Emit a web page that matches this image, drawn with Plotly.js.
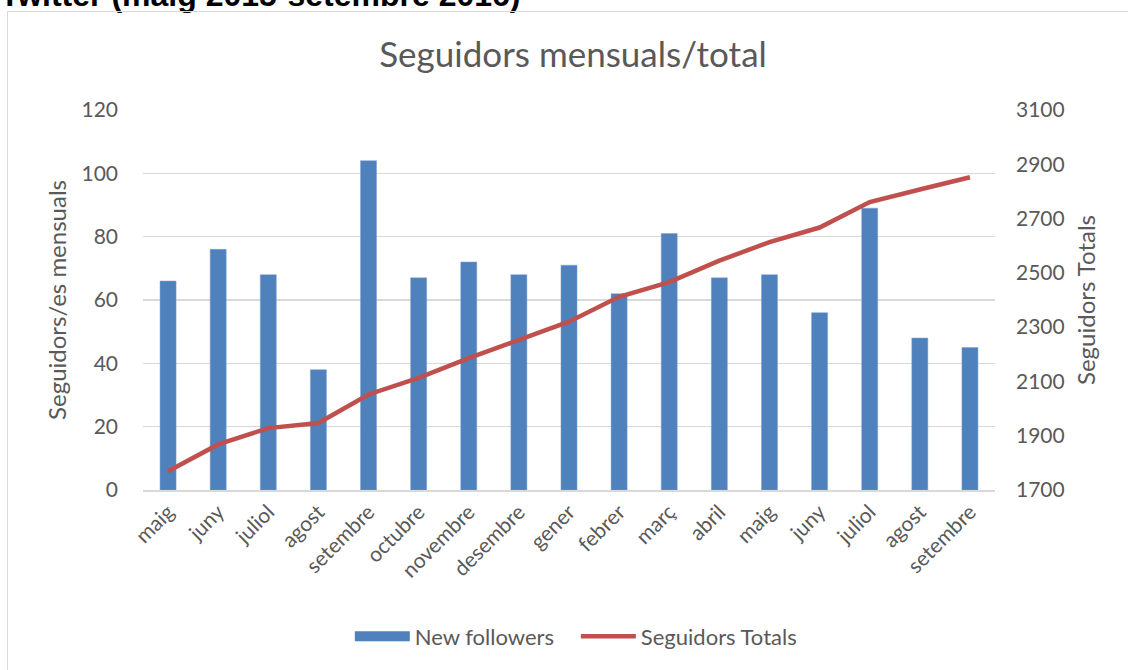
<!DOCTYPE html>
<html>
<head>
<meta charset="utf-8">
<script src="https://cdn.plot.ly/plotly-3.0.1.min.js"></script>
<style>
  html, body { margin: 0; padding: 0; background: #fff; overflow: hidden; }
  #wrap { position: relative; width: 1128px; height: 670px; overflow: hidden; }
  #frame { position: absolute; left: 7px; top: 11px; width: 1140px; height: 680px; border: 1.5px solid #d9d9d9; box-sizing: border-box; pointer-events: none; }
  #heading { position: absolute; left: 0px; top: -21px; font-family: "Liberation Sans", Arial, sans-serif; font-weight: bold; font-size: 32px; line-height: 32px; color: #000; white-space: nowrap; }
  #chart { position: absolute; left: 0; top: 0; width: 1128px; height: 670px; }
</style>
</head>
<body>
<div id="wrap">
  <div id="heading">Twitter (maig 2015-setembre 2016)</div>
  <div id="frame"></div>
  <div id="chart"></div>
</div>
<script>
const months = ["maig","juny","juliol","agost","setembre","octubre","novembre","desembre","gener","febrer","març","abril","maig","juny","juliol","agost","setembre"];
const newFollowers = [66, 76, 68, 38, 104, 67, 72, 68, 71, 62, 81, 67, 68, 56, 89, 48, 45];
const totalFollowers = [1769, 1868, 1928, 1947, 2052, 2113, 2186, 2253, 2320, 2412, 2466, 2545, 2613, 2667, 2761, 2807, 2852];
const leftTicks = [0, 20, 40, 60, 80, 100, 120];
const rightTicks = [1700, 1900, 2100, 2300, 2500, 2700, 2900, 3100];

const idx = months.map((m, i) => i);
const fontFam = 'Lato, "Open Sans", sans-serif';
const grey = '#595959';
const blue = '#4F81BD';
const red = '#C0504D';

const traces = [
  {
    type: 'bar', name: 'New followers', x: idx, y: newFollowers,
    marker: { color: blue, line: { color: '#7FA1CF', width: 0.5 } },
    yaxis: 'y', hoverinfo: 'y', showlegend: false, legendgroup: 'nf'
  },
  {
    // legend swatch for the bars (wide rectangle like the original)
    type: 'scatter', mode: 'lines', name: 'New followers   ', x: [null], y: [null],
    line: { color: blue, width: 14 }, yaxis: 'y', legendgroup: 'nf', hoverinfo: 'skip'
  },
  {
    type: 'scatter', mode: 'lines', name: 'Seguidors Totals', x: idx, y: totalFollowers,
    line: { color: red, width: 4.5 },
    yaxis: 'y2', hoverinfo: 'y'
  }
];

const layout = {
  width: 1128, height: 670,
  paper_bgcolor: 'rgba(0,0,0,0)', plot_bgcolor: 'rgba(0,0,0,0)',
  margin: { l: 143, r: 133, t: 110, b: 177 },
  font: { family: fontFam, color: grey, size: 21 },
  title: { text: 'Seguidors mensuals/total', font: { family: fontFam, size: 35, color: grey }, x: 0.508, xanchor: 'center', y: 0.918, yanchor: 'middle' },
  bargap: 0.68,
  showlegend: true,
  legend: { orientation: 'h', x: 0.508, xanchor: 'center', y: -0.33, yanchor: 'top', font: { size: 22, color: grey }, traceorder: 'normal', tracegroupgap: 0, itemwidth: 55 },
  xaxis: {
    range: [-0.5, 16.5], tickmode: 'array', tickvals: idx, ticktext: months,
    tickangle: -45, showgrid: false, zeroline: false, showline: true, linecolor: '#d9d9d9', linewidth: 1.5,
    ticks: '', tickfont: { size: 21, color: grey }, fixedrange: true
  },
  yaxis: {
    range: [0, 120], tickmode: 'array', tickvals: leftTicks,
    showgrid: true, gridcolor: '#d9d9d9', gridwidth: 1.5, zeroline: false, showline: false,
    ticks: '', ticklabelstandoff: 24, tickfont: { size: 21, color: grey },
    title: { text: 'Seguidors/es mensuals', font: { size: 24, color: grey }, standoff: 8 }
  },
  yaxis2: {
    range: [1700, 3100], tickmode: 'array', tickvals: rightTicks, overlaying: 'y', side: 'right',
    showgrid: false, zeroline: false, showline: false,
    ticks: '', ticklabelstandoff: 20, tickfont: { size: 21, color: grey },
    title: { text: 'Seguidors Totals', font: { size: 24, color: grey }, standoff: 14 }
  }
};

Plotly.newPlot('chart', traces, layout, { displayModeBar: false, staticPlot: true });
</script>
</body>
</html>
